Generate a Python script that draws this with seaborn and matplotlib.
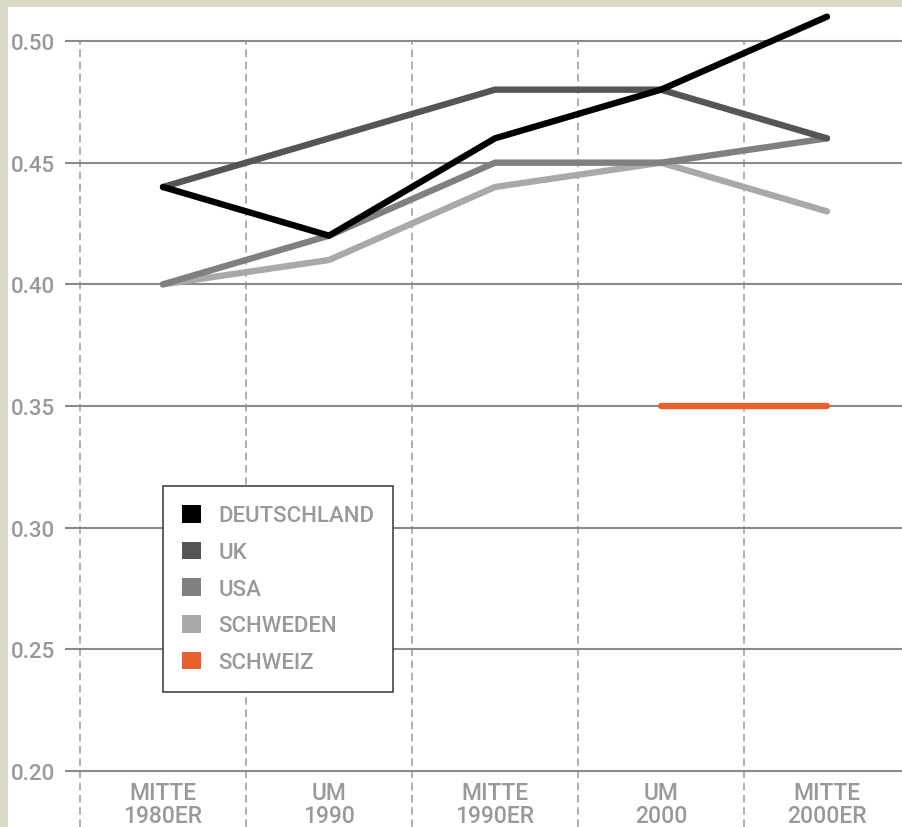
import pandas as pd
import numpy as np
import matplotlib
matplotlib.use("Agg")
import matplotlib.pyplot as plt
from matplotlib.patches import Patch, Rectangle
import seaborn as sns

# Data
periods = ["MITTE\n1980ER", "UM\n1990", "MITTE\n1990ER", "UM\n2000", "MITTE\n2000ER"]
deutschland = [0.44, 0.42, 0.46, 0.48, 0.51]
uk = [0.44, 0.46, 0.48, 0.48, 0.46]
usa = [0.40, 0.42, 0.45, 0.45, 0.46]
schweden = [0.40, 0.41, 0.44, 0.45, 0.43]
schweiz = [np.nan, np.nan, np.nan, 0.35, 0.35]
countries = ["DEUTSCHLAND", "UK", "USA", "SCHWEDEN", "SCHWEIZ"]
colors = ["#000000", "#555555", "#808080", "#a9a9a9", "#e8602c"]
y_ticks = [0.20, 0.25, 0.30, 0.35, 0.40, 0.45, 0.50]

series = [deutschland, uk, usa, schweden, schweiz]
rows = []
for name, vals in zip(countries, series):
    for i, v in enumerate(vals):
        rows.append({"land": name, "pos": i, "wert": v})
df = pd.DataFrame(rows).dropna()

sns.set_style("white")
plt.rcParams["font.family"] = ["Roboto", "DejaVu Sans"]
plt.rcParams["font.weight"] = "medium"
label_grey = "#999999"

W, H = 903, 828
fig = plt.figure(figsize=(W / 100, H / 100), dpi=100)
fig.patch.set_facecolor("#dcdac6")
fig.patches.append(Rectangle((8 / W, 0), 1, 1 - 8 / H, transform=fig.transFigure,
                             facecolor="white", edgecolor="none", zorder=-10))

ax = fig.add_axes([65 / W, 0, 838 / W, 820 / H])
ax.set_zorder(5)
ax.set_facecolor("none")

# vertical dashed separators between periods
for b in np.arange(-0.5, 4.0, 1.0):
    ax.plot([b, b], [0.177, 0.50], color="#999999", lw=1.1, ls=(0, (5, 3)), zorder=1)
# horizontal grid
for t in y_ticks:
    ax.axhline(t, color="#8a8a8a", lw=1.5, zorder=1)

# draw lines, Deutschland last so it sits on top
draw_order = ["SCHWEIZ", "SCHWEDEN", "USA", "UK", "DEUTSCHLAND"]
pal = dict(zip(countries, colors))
sns.lineplot(data=df, x="pos", y="wert", hue="land", hue_order=draw_order,
             palette=pal, lw=4.6, legend=False, ax=ax, zorder=3,
             solid_capstyle="round", solid_joinstyle="miter")

ax.set_xlim(-98 / 166, 740 / 166)
ax.set_ylim(0.20 - 56 / 2433.3, 0.50 + 34 / 2433.3)
ax.set_yticks(y_ticks)
ax.set_yticklabels([f"{t:.2f}" for t in y_ticks], color=label_grey, fontsize=16)
ax.tick_params(axis="y", length=0, pad=7)
ax.set_xticks([])
ax.set_xlabel("")
ax.set_ylabel("")
for s in ax.spines.values():
    s.set_visible(False)

for i, p in enumerate(periods):
    ax.text(i, 0.1865, p, ha="center", va="center", color=label_grey,
            fontsize=16.5, linespacing=1.0)

handles = [Patch(facecolor=c, edgecolor="none") for c in colors]
leg = ax.legend(handles, countries, loc="upper left",
                bbox_to_anchor=(163 / W, 1 - 487 / H), bbox_transform=fig.transFigure,
                borderaxespad=0, fontsize=16, frameon=True, fancybox=False,
                handlelength=0.85, handleheight=0.85, handletextpad=0.8,
                labelspacing=0.68, borderpad=0.85)
leg.get_frame().set_edgecolor("#444444")
leg.get_frame().set_linewidth(1.2)
leg.get_frame().set_facecolor("white")
leg.get_frame().set_alpha(1)
for t in leg.get_texts():
    t.set_color(label_grey)

fig.savefig("out.png", dpi=100, facecolor=fig.get_facecolor())
